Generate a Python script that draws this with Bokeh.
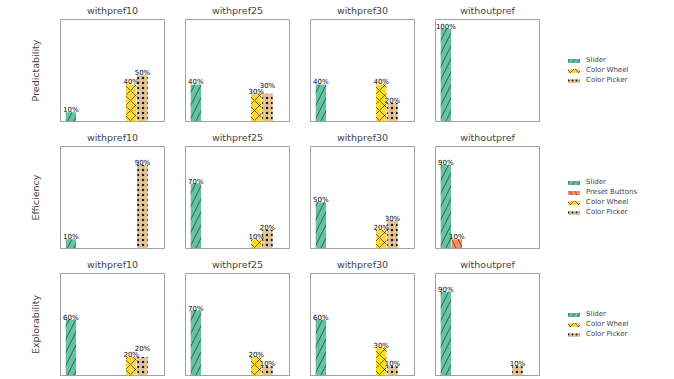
from bokeh.plotting import figure
from bokeh.models import ColumnDataSource, Title, Legend, LegendItem, Range1d
from bokeh.layouts import row, column
from bokeh.embed import file_html
from bokeh.resources import INLINE
from bokeh.core.properties import value

# ---------------- data ----------------
conditions = ["withpref10", "withpref25", "withpref30", "withoutpref"]
metrics = ["Predictability", "Efficiency", "Explorability"]
methods = ["Slider", "Preset Buttons", "Color Wheel", "Color Picker"]

# percentages per condition (withpref10, withpref25, withpref30, withoutpref)
pred_slider = [10, 40, 40, 100]
pred_preset = [0, 0, 0, 0]
pred_wheel = [40, 30, 40, 0]
pred_picker = [50, 30, 20, 0]

eff_slider = [10, 70, 50, 90]
eff_preset = [0, 0, 0, 10]
eff_wheel = [0, 10, 20, 0]
eff_picker = [90, 20, 30, 0]

expl_slider = [60, 70, 60, 90]
expl_preset = [0, 0, 0, 0]
expl_wheel = [20, 20, 30, 0]
expl_picker = [20, 10, 10, 10]

metric_values = {
    "Predictability": [pred_slider, pred_preset, pred_wheel, pred_picker],
    "Efficiency": [eff_slider, eff_preset, eff_wheel, eff_picker],
    "Explorability": [expl_slider, expl_preset, expl_wheel, expl_picker],
}

# ---------------- style ----------------
colors = ["#66c2a5", "#fc8d62", "#ffd92f", "#e5c494"]
hatches = ["right_diagonal_line", "left_diagonal_line", "diagonal_cross", "dot"]
hatch_scales = [13, 13, 10, 5]
bar_pos = [1.0, 2.05, 6.8, 7.88]   # slot positions inside each panel (0..10)
FONT = "DejaVu Sans"
FRAME_W, FRAME_H = 104, 102
OUTLINE = "#a0a0a0"

rows = []
for ri, metric in enumerate(metrics):
    vals = metric_values[metric]
    top_b = 19
    bot_b = 6 if ri < 2 else 2
    H = top_b + FRAME_H + bot_b
    figs = []
    for ci, cond in enumerate(conditions):
        left_b = 60 if ci == 0 else 11
        right_b = 10
        W = left_b + FRAME_W + right_b
        p = figure(width=W, height=H, x_range=Range1d(0, 10), y_range=Range1d(0, 110),
                   output_backend="svg", toolbar_location=None,
                   x_axis_location=None, y_axis_location=None,
                   min_border_left=left_b, min_border_right=right_b,
                   min_border_top=top_b, min_border_bottom=bot_b,
                   title=cond)
        p.title.align = "center"
        p.title.vertical_align = "middle"
        p.title.text_font = FONT
        p.title.text_font_style = "normal"
        p.title.text_font_size = "9.5px"
        p.title.standoff = 5.5
        p.title.offset = 0
        p.grid.visible = False
        p.outline_line_color = OUTLINE
        p.outline_line_width = 1
        p.background_fill_color = "white"
        p.border_fill_color = "white"

        heights = [vals[m][ci] for m in range(4)]
        src = ColumnDataSource(dict(x=bar_pos, top=heights, color=colors,
                                    hatch=hatches, scale=hatch_scales))
        p.vbar(x="x", top="top", width=1.0, bottom=0, source=src,
               fill_color="color", line_color=None,
               hatch_pattern="hatch", hatch_scale="scale",
               hatch_color="#1a1a1a", hatch_weight=0.6)

        # bar labels; a label that would collide with its left neighbour is lifted
        lx, ly, lt, lo = [], [], [], []
        for m in range(4):
            if heights[m] > 0:
                lift = m > 0 and heights[m - 1] == heights[m]
                lx.append(bar_pos[m]); ly.append(heights[m])
                lt.append("%d%%" % heights[m]); lo.append(-8 if lift else -2)
        lsrc = ColumnDataSource(dict(x=lx, y=ly, t=lt, off=lo))
        p.text(x="x", y="y", text="t", source=lsrc, text_align="center",
               text_baseline="alphabetic", y_offset="off",
               text_font=value(FONT), text_font_size="7px", text_color="black")

        if ci == 0:
            p.add_layout(Title(text=metric, align="center", text_font=FONT,
                               text_font_style="normal", text_font_size="9.5px",
                               standoff=40), "left")
        figs.append(p)

    # legend figure for the row (frame aligned with the panels' frames)
    lg = figure(width=120, height=H, x_range=Range1d(0, 1), y_range=Range1d(0, 1),
                output_backend="svg", toolbar_location=None,
                x_axis_location=None, y_axis_location=None,
                min_border_left=0, min_border_right=0,
                min_border_top=top_b, min_border_bottom=bot_b)
    lg.grid.visible = False
    lg.outline_line_color = None
    items = []
    present = [m for m in range(4) if any(v > 0 for v in vals[m])]
    for m in present:
        r = lg.vbar(x=[0], top=[0], width=0.0, fill_color=colors[m], line_color=None,
                    hatch_pattern=hatches[m], hatch_scale=hatch_scales[m] * 0.8,
                    hatch_color="#1a1a1a", hatch_weight=0.6)
        items.append(LegendItem(label=methods[m], renderers=[r]))
    leg = Legend(items=items, location="left",
                 glyph_width=15, glyph_height=5, label_height=8, spacing=2,
                 label_standoff=5, padding=0, margin=17,
                 label_text_font=FONT, label_text_font_size="7px",
                 border_line_color=None, background_fill_alpha=0)
    lg.add_layout(leg)
    figs.append(lg)
    rows.append(row(*figs))

layout = column(*rows)
open("out.html", "w").write(file_html(layout, INLINE))
